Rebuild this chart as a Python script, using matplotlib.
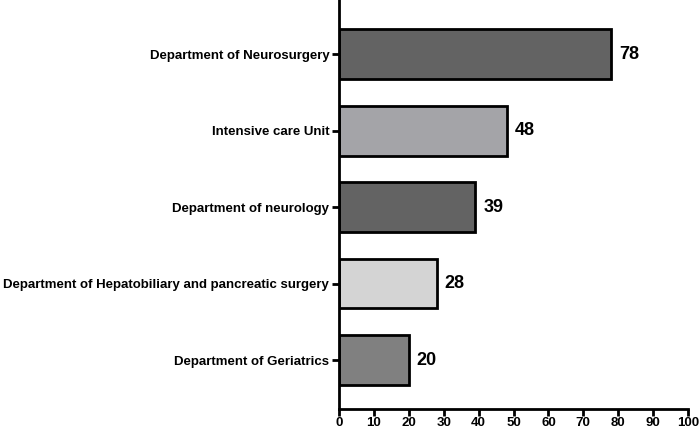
import matplotlib
matplotlib.use("Agg")
import matplotlib.pyplot as plt

categories = ["Department of Neurosurgery", "Intensive care Unit", "Department of neurology",
              "Department of Hepatobiliary and pancreatic surgery", "Department of Geriatrics"]
values = [78, 48, 39, 28, 20]
colors = ["#636363", "#a4a4a8", "#636363", "#d4d4d4", "#808080"]
xticks = list(range(0, 101, 10))

plt.rcParams['font.family'] = ['Liberation Sans', 'DejaVu Sans']
plt.rcParams['font.weight'] = 'bold'

fig = plt.figure(figsize=(7, 4.33), dpi=100)
ax = fig.add_axes([339/700, 1 - 409/433, (688 - 339)/700, 409/433])

n = len(categories)
pos = [n - 1 - i for i in range(n)]
ax.barh(pos, values, height=0.65, color=colors, edgecolor="black", linewidth=2, zorder=2)
for p, v in zip(pos, values):
    ax.text(v + 2.3, p, str(v), va="center", ha="left", fontsize=13, fontweight="bold")

ax.set_xlim(0, 100)
ax.set_ylim(-0.64, 4.71)
ax.set_xticks(xticks)
ax.set_xticklabels([str(t) for t in xticks], fontsize=9.5, fontweight="bold")
ax.set_yticks(pos)
ax.set_yticklabels(categories, fontsize=9.5, fontweight="bold")
for s in ["top", "right"]:
    ax.spines[s].set_visible(False)
for s in ["left", "bottom"]:
    ax.spines[s].set_linewidth(2)
ax.tick_params(axis="both", width=2, length=5, pad=2)
ax.tick_params(axis="x", pad=1)

fig.savefig("out.png", dpi=100)
